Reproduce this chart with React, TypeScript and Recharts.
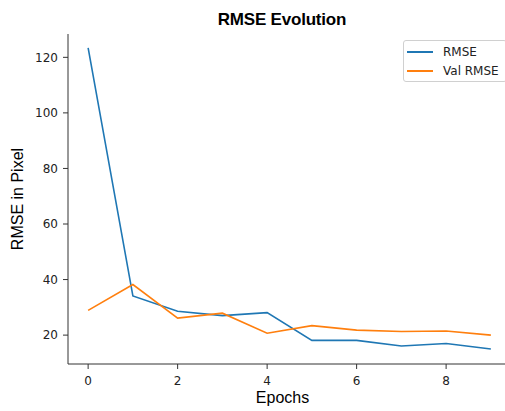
import { Line, LineChart, XAxis, YAxis } from 'recharts'

// Values.
const epochs = [0, 1, 2, 3, 4, 5, 6, 7, 8, 9]
const rmse = [123.4, 34.1, 28.6, 27.0, 28.1, 18.1, 18.1, 16.1, 17.0, 15.0]
const valRmse = [28.9, 38.2, 26.1, 27.9, 20.7, 23.4, 21.8, 21.3, 21.5, 20.0]
const xTicks = [0, 2, 4, 6, 8]
const yTicks = [20, 40, 60, 80, 100, 120]

const BLUE = '#1f77b4'
const ORANGE = '#ff7f0e'
const AXIS = '#333'
const TICK_FONT = '"DejaVu Sans", sans-serif'
const LABEL_FONT = '"Liberation Sans", Arial, sans-serif'

const data = epochs.map((e, i) => ({ epoch: e, rmse: rmse[i], val: valRmse[i] }))

const legendItems = [
  { name: 'RMSE', color: BLUE },
  { name: 'Val RMSE', color: ORANGE },
]

// Legend box sits in the upper right corner, partly cut off like the original.
function LegendBox() {
  return (
    <div
      style={{
        position: 'absolute',
        left: 403,
        top: 40,
        width: 104,
        height: 42,
        border: '1px solid #d0d0d0',
        borderRadius: 3,
        background: 'rgba(255,255,255,0.8)',
        boxSizing: 'border-box',
        padding: '1px 0 0 3px',
      }}
    >
      {legendItems.map((it) => (
        <div key={it.name} style={{ display: 'flex', alignItems: 'center', height: 19 }}>
          <span style={{ width: 26, height: 0, borderTop: `2px solid ${it.color}`, marginRight: 10 }} />
          <span style={{ fontFamily: TICK_FONT, fontSize: 12, color: '#222' }}>{it.name}</span>
        </div>
      ))}
    </div>
  )
}

export default function App() {
  return (
    <div style={{ position: 'relative', width: 505, height: 411, overflow: 'hidden', background: '#fff' }}>
      <style>{'body{margin:0}'}</style>
      <div
        style={{
          position: 'absolute',
          left: 182,
          width: 200,
          top: 10,
          textAlign: 'center',
          fontFamily: LABEL_FONT,
          fontWeight: 'bold',
          fontSize: 17,
          letterSpacing: -0.2,
          color: '#000',
        }}
      >
        RMSE Evolution
      </div>
      <LineChart
        width={520}
        height={411}
        data={data}
        margin={{ top: 34, right: 9, left: 0, bottom: 0 }}
      >
        <XAxis
          xAxisId="top"
          orientation="top"
          dataKey="epoch"
          type="number"
          domain={[-0.45, 9.45]}
          height={0}
          tick={false}
          tickLine={false}
          axisLine={{ stroke: AXIS }}
        />
        <XAxis
          dataKey="epoch"
          type="number"
          domain={[-0.45, 9.45]}
          ticks={xTicks}
          height={47}
          tickSize={5}
          tickMargin={7}
          stroke={AXIS}
          tick={{ fill: '#222', fontSize: 12, fontFamily: TICK_FONT }}
          label={{
            value: 'Epochs',
            position: 'insideBottom',
            offset: 8,
            dx: -7,
            style: { fontFamily: LABEL_FONT, fontSize: 16, fill: '#000' },
          }}
        />
        <YAxis
          type="number"
          domain={[9.6, 128.4]}
          ticks={yTicks}
          width={68}
          tickSize={5}
          tickMargin={5}
          stroke={AXIS}
          tick={{ fill: '#222', fontSize: 12, fontFamily: TICK_FONT }}
          label={{
            value: 'RMSE in Pixel',
            angle: -90,
            position: 'insideLeft',
            offset: 17,
            style: { fontFamily: LABEL_FONT, fontSize: 16, fill: '#000', textAnchor: 'middle' },
          }}
        />
        <Line
          dataKey="rmse"
          name="RMSE"
          stroke={BLUE}
          strokeWidth={1.6}
          dot={false}
          type="linear"
          isAnimationActive={false}
        />
        <Line
          dataKey="val"
          name="Val RMSE"
          stroke={ORANGE}
          strokeWidth={1.6}
          dot={false}
          type="linear"
          isAnimationActive={false}
        />
      </LineChart>
      <LegendBox />
    </div>
  )
}
